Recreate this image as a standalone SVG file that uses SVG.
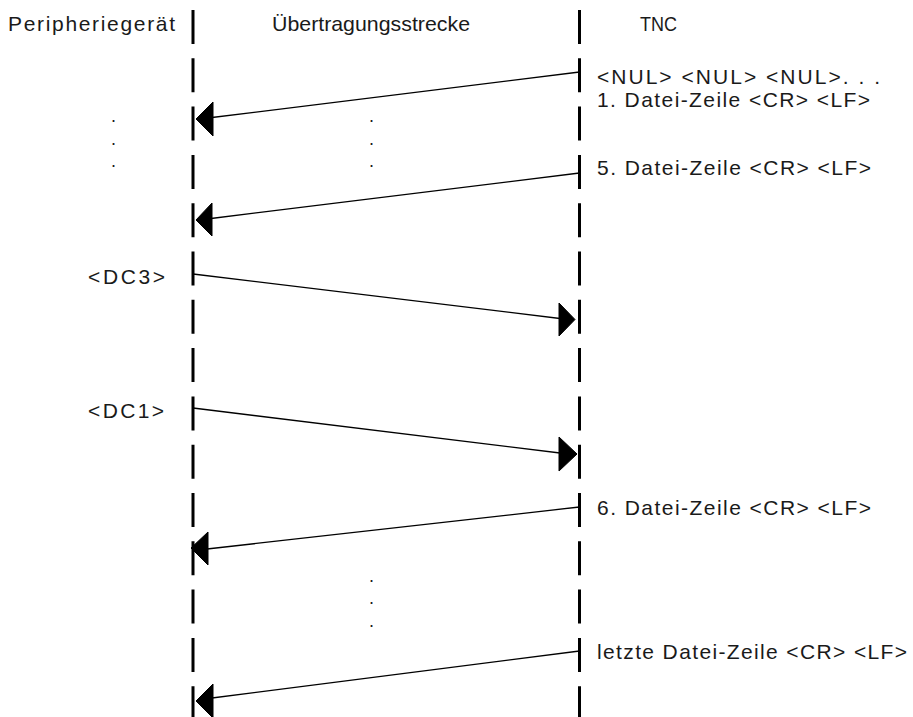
<svg xmlns="http://www.w3.org/2000/svg" width="913" height="717" viewBox="0 0 913 717">
  <style>
    .lbl { font-family: "Liberation Sans", Arial, sans-serif; font-size: 21px; fill: #1a1a1a; }
    .dot { font-family: "Liberation Sans", Arial, sans-serif; font-size: 18px; fill: #1a1a1a; text-anchor: middle; }
    .life { stroke: #000; stroke-width: 3; stroke-dasharray: 34 14.3; fill: none; }
    .msg { stroke: #000; stroke-width: 1.3; fill: none; }
    .head { fill: #000; stroke: #000; stroke-width: 1; stroke-linejoin: miter; }
  </style>
  <rect width="913" height="717" fill="#fff"/>

  <!-- column headings -->
  <g id="peripherie">
    <text class="lbl" x="8" y="31" textLength="167" lengthAdjust="spacing">Peripheriegerät</text>
    <line class="life" x1="193" y1="10" x2="193" y2="717"/>
  </g>
  <g id="strecke">
    <text class="lbl" x="272" y="31" textLength="198" lengthAdjust="spacingAndGlyphs">Übertragungsstrecke</text>
  </g>
  <g id="tnc">
    <text class="lbl" x="640" y="31" textLength="37" lengthAdjust="spacingAndGlyphs">TNC</text>
    <line class="life" x1="579.5" y1="10" x2="579.5" y2="717"/>
  </g>

  <!-- message labels -->
  <g id="labels">
    <text class="lbl" x="597" y="84" textLength="283" lengthAdjust="spacing">&lt;NUL&gt; &lt;NUL&gt; &lt;NUL&gt;. . .</text>
    <text class="lbl" x="597" y="107" textLength="273" lengthAdjust="spacing">1. Datei-Zeile &lt;CR&gt; &lt;LF&gt;</text>
    <text class="lbl" x="597" y="175" textLength="274" lengthAdjust="spacing">5. Datei-Zeile &lt;CR&gt; &lt;LF&gt;</text>
    <text class="lbl" x="88" y="284" textLength="77" lengthAdjust="spacing">&lt;DC3&gt;</text>
    <text class="lbl" x="88" y="418" textLength="76" lengthAdjust="spacing">&lt;DC1&gt;</text>
    <text class="lbl" x="597" y="515" textLength="274" lengthAdjust="spacing">6. Datei-Zeile &lt;CR&gt; &lt;LF&gt;</text>
    <text class="lbl" x="597" y="659" textLength="310" lengthAdjust="spacing">letzte Datei-Zeile &lt;CR&gt; &lt;LF&gt;</text>
  </g>

  <!-- vertical ellipses -->
  <g id="ellipses">
    <text class="dot" x="113.5" y="122">.</text>
    <text class="dot" x="113.5" y="144.5">.</text>
    <text class="dot" x="113.5" y="167">.</text>
    <text class="dot" x="371.5" y="122">.</text>
    <text class="dot" x="371.5" y="144.5">.</text>
    <text class="dot" x="371.5" y="167">.</text>
    <text class="dot" x="371.5" y="582">.</text>
    <text class="dot" x="371.5" y="604">.</text>
    <text class="dot" x="371.5" y="627">.</text>
  </g>

  <!-- messages between the two stations -->
  <g id="connectors">
    <line class="msg" x1="579.5" y1="72" x2="212" y2="117.5"/>
    <polygon class="head" points="196,119 213,102 213,136"/>

    <line class="msg" x1="579.5" y1="173" x2="211" y2="218.5"/>
    <polygon class="head" points="196,220 212,203 212,236"/>

    <line class="msg" x1="193" y1="274" x2="560" y2="318.5"/>
    <polygon class="head" points="575,319.5 559,303 559,336"/>

    <line class="msg" x1="193" y1="408" x2="560" y2="453"/>
    <polygon class="head" points="577,454 559,437 559,471"/>

    <line class="msg" x1="579.5" y1="507" x2="207" y2="549"/>
    <polygon class="head" points="191,548 208,532 208,565"/>

    <line class="msg" x1="579.5" y1="651" x2="212" y2="698"/>
    <polygon class="head" points="196,701 213,684 213,718"/>
  </g>
</svg>
